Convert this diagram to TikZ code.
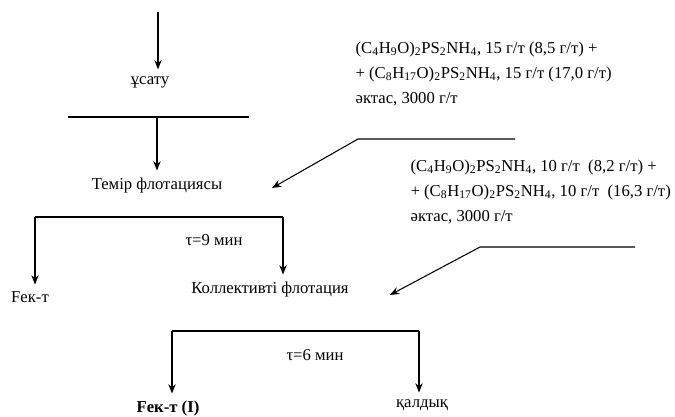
\documentclass[tikz,border=0pt]{standalone}
\usepackage{fontspec}
\setmainfont{Liberation Serif}
\usetikzlibrary{arrows.meta,positioning,calc}

\tikzset{
  txt/.style={inner sep=1pt, font=\fontsize{12.5}{19}\selectfont},
  reag/.style={txt, align=left, anchor=west},
  arr/.style={line width=0.8pt, -{Stealth[length=7pt,width=5.5pt]}},
  down/.style={arr, shorten >=4pt},
  bar/.style={line width=2pt},
}

\begin{document}
\begin{tikzpicture}[x=0.75pt,y=-0.75pt]
	\useasboundingbox (0,0) rectangle (675,417);
	% operations
	\node[txt] (usatu) at (150,82) {ұсату};
	\node[txt] (temir) at (157,185) {Темір флотациясы};
	\node[txt] (fekt) at (30,297) {Fек-т};
	\node[txt] (koll) at (270,289) {Коллективті флотация};
	\node[txt] (tau1) at (214,240) {τ=9 мин};
	\node[txt] (tau2) at (315,355) {τ=6 мин};
	\node[txt,font=\fontsize{12.5}{19}\selectfont\bfseries] (fekt1) at (168,408) {Fек-т (I)};
	\node[txt] (qald) at (422,405) {қалдық};
	% reagents
	\node[reag] (reag1) at (354,74) {(C\textsubscript{4}H\textsubscript{9}O)\textsubscript{2}PS\textsubscript{2}NH\textsubscript{4}, 15 г/т (8,5 г/т) +\\
	+ (C\textsubscript{8}H\textsubscript{17}O)\textsubscript{2}PS\textsubscript{2}NH\textsubscript{4}, 15 г/т (17,0 г/т)\\
	әктас, 3000 г/т};
	\node[reag] (reag2) at (409,192) {(C\textsubscript{4}H\textsubscript{9}O)\textsubscript{2}PS\textsubscript{2}NH\textsubscript{4}, 10 г/т~ (8,2 г/т) +\\
	+ (C\textsubscript{8}H\textsubscript{17}O)\textsubscript{2}PS\textsubscript{2}NH\textsubscript{4}, 10 г/т~ (16,3 г/т)\\
	әктас, 3000 г/т};
	% bars
	\coordinate (b1l) at (68,117);
	\coordinate (b1r) at (249,117);
	\coordinate (b1m) at (157,117);
	\coordinate (b2l) at (35,217);
	\coordinate (b2r) at (283,217);
	\coordinate (b3l) at (172,331);
	\coordinate (b3r) at (419,331);
	\draw[bar] (b1l) -- (b1r);
	\draw[bar] (b2l) -- (b2r);
	\draw[bar] (b3l) -- (b3r);
	% feed lines
	\coordinate (in) at (158,12);
	\coordinate (r1a) at (515,139);
	\coordinate (r1b) at (358,139);
	\coordinate (t1) at (272,188);
	\coordinate (r2a) at (635,247);
	\coordinate (r2b) at (480,247);
	\coordinate (t2) at (390,295);
	\draw[down] (in) -- (in |- usatu.north);
	\draw[down] (b1m) -- (b1m |- temir.north);
	\draw[down] (b2l) -- (b2l |- fekt.north);
	\draw[down] (b2r) -- (b2r |- koll.north);
	\draw[down] (b3l) -- (b3l |- fekt1.north);
	\draw[down] (b3r) -- (b3r |- qald.north);
	\draw[arr] (r1a) -- (r1b) -- (t1);
	\draw[arr] (r2a) -- (r2b) -- (t2);
\end{tikzpicture}
\end{document}
